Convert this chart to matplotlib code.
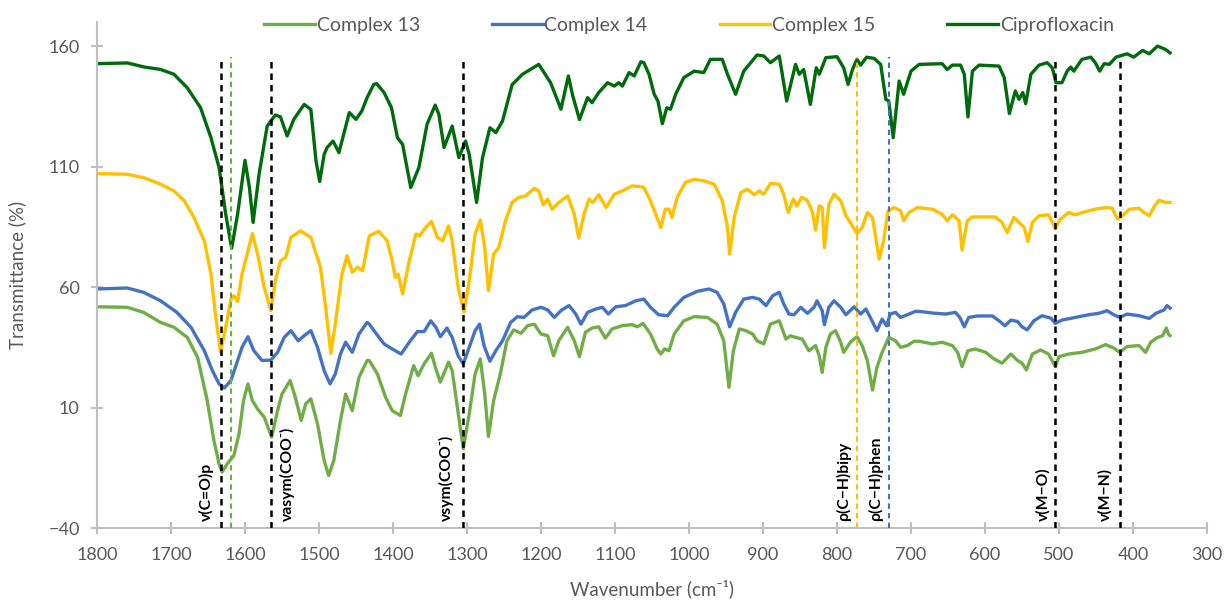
import matplotlib
matplotlib.use("Agg")
import matplotlib.pyplot as plt

plt.rcParams['font.family'] = ['Lato', 'DejaVu Sans']

# FTIR spectra (wavenumber in cm-1, transmittance in %, curves offset for clarity)
wn_cipro = [1800, 1759, 1736, 1714, 1696, 1678, 1660, 1646, 1635, 1626, 1618, 1610, 1600, 1594, 1589,
            1581, 1570, 1559, 1552, 1543, 1534, 1520, 1511, 1504, 1499, 1493, 1489, 1481, 1473, 1459,
            1450, 1442, 1435, 1426, 1422, 1412, 1402, 1394, 1387, 1376, 1365, 1354, 1343, 1338, 1331,
            1320, 1311, 1302, 1297, 1287, 1279, 1269, 1261, 1252, 1239, 1225, 1203, 1187, 1173, 1163,
            1157, 1148, 1137, 1131, 1122, 1110, 1101, 1095, 1090, 1081, 1074, 1065, 1061, 1054, 1047,
            1042, 1036, 1030, 1025, 1018, 1007, 993, 980, 971, 955, 948, 937, 926, 908, 899, 890, 878,
            868, 856, 851, 845, 836, 828, 824, 815, 800, 791, 785, 779, 773, 768, 760, 750, 741, 734,
            730, 724, 716, 710, 700, 689, 658, 651, 644, 633, 628, 623, 617, 608, 581, 574, 567, 559,
            554, 549, 545, 538, 527, 516, 509, 504, 496, 489, 484, 480, 469, 457, 451, 445, 439, 432,
            423, 408, 399, 387, 378, 367, 356, 350]
t_cipro = [152.7, 153.0, 151.3, 150.3, 148.3, 142.7, 134.4, 122.0, 109.6, 90.2, 76.1, 90.2, 112.6, 101.3,
           86.8, 106.8, 126.8, 131.4, 130.6, 122.7, 129.6, 135.8, 133.7, 112.3, 103.8, 115.1, 117.9,
           120.6, 115.8, 132.4, 129.6, 133.1, 138.6, 144.1, 144.4, 140.7, 134.4, 122.0, 119.2, 101.3,
           109.6, 127.5, 135.5, 131.7, 117.9, 126.8, 113.7, 120.6, 115.1, 95.1, 113.7, 126.1, 124.1,
           128.9, 144.0, 148.3, 152.4, 144.8, 133.8, 147.6, 139.3, 129.5, 138.6, 136.5, 140.7, 144.8,
           143.4, 144.8, 143.4, 149.0, 147.6, 153.5, 153.1, 148.3, 140.0, 137.2, 127.8, 134.4, 133.8,
           140.0, 146.9, 149.6, 149.0, 154.5, 154.5, 148.3, 140.0, 149.6, 156.3, 155.9, 153.1, 155.9,
           137.2, 152.4, 148.3, 150.3, 135.8, 151.0, 148.3, 155.2, 155.6, 151.0, 144.1, 150.3, 154.5,
           152.1, 155.4, 154.9, 152.4, 137.9, 137.2, 122.0, 145.5, 140.0, 149.6, 152.4, 152.7, 150.3,
           152.1, 152.1, 148.3, 130.6, 149.6, 152.1, 151.7, 146.9, 132.0, 141.4, 137.9, 140.7, 136.1,
           148.3, 152.1, 153.1, 151.0, 144.8, 144.8, 149.6, 151.3, 149.6, 154.5, 155.4, 153.1, 149.6,
           152.7, 152.4, 155.4, 156.8, 155.4, 158.2, 156.8, 160.0, 158.6, 157.2]

wn_c15 = [1800, 1759, 1737, 1714, 1696, 1682, 1669, 1655, 1646, 1640, 1633, 1626, 1619, 1615, 1610, 1604,
          1597, 1590, 1583, 1574, 1565, 1559, 1552, 1545, 1538, 1525, 1511, 1498, 1491, 1484, 1478, 1469,
          1462, 1455, 1448, 1441, 1432, 1419, 1408, 1401, 1397, 1393, 1387, 1378, 1369, 1364, 1356, 1348,
          1340, 1333, 1325, 1320, 1312, 1304, 1297, 1289, 1282, 1276, 1271, 1264, 1257, 1248, 1239, 1230,
          1221, 1209, 1203, 1197, 1191, 1185, 1176, 1164, 1155, 1149, 1142, 1135, 1130, 1122, 1112, 1101,
          1090, 1077, 1065, 1061, 1052, 1045, 1038, 1032, 1027, 1023, 1016, 1005, 993, 980, 966, 955,
          948, 945, 939, 930, 921, 912, 905, 899, 890, 878, 872, 866, 859, 854, 848, 840, 833, 829, 824,
          820, 817, 811, 804, 795, 788, 782, 773, 766, 759, 752, 743, 737, 731, 723, 714, 710, 703, 691,
          671, 658, 651, 644, 635, 631, 624, 617, 586, 577, 570, 561, 554, 547, 542, 536, 527, 514, 505,
          498, 487, 478, 469, 451, 437, 428, 421, 414, 405, 392, 385, 378, 372, 365, 356, 350]
t_c15 = [107.1, 106.8, 105.4, 102.7, 99.9, 95.8, 88.9, 79.2, 65.4, 48.8, 32.9, 43.3, 55.0, 56.4, 54.0, 65.4,
         73.7, 82.2, 73.7, 59.9, 50.2, 62.6, 70.9, 72.3, 80.6, 83.3, 80.6, 68.2, 51.6, 32.5, 44.6, 65.4,
         73.0, 66.1, 68.2, 66.8, 81.3, 83.1, 79.2, 70.9, 64.0, 65.4, 57.1, 70.9, 82.0, 81.3, 84.7, 87.2,
         80.6, 79.2, 85.4, 79.2, 59.9, 49.5, 62.6, 82.0, 87.8, 76.4, 58.5, 73.7, 76.4, 87.5, 95.1, 97.2,
         97.8, 101.0, 99.9, 94.1, 96.5, 92.3, 95.1, 97.8, 90.2, 80.3, 90.2, 96.5, 95.1, 98.3, 93.0, 98.5,
         99.9, 102.0, 101.6, 101.3, 95.8, 90.2, 84.7, 92.3, 92.3, 88.9, 97.2, 103.4, 104.7, 104.1, 102.7,
         95.8, 84.7, 73.7, 88.9, 99.2, 100.6, 98.3, 99.9, 98.5, 103.0, 102.7, 98.5, 90.9, 96.5, 93.7, 97.2,
         96.0, 90.9, 83.6, 93.7, 93.0, 76.4, 94.4, 98.5, 95.8, 89.6, 86.8, 82.2, 84.7, 90.9, 88.9, 71.6,
         79.2, 91.6, 93.0, 91.6, 87.5, 90.9, 93.0, 92.3, 90.2, 87.5, 90.0, 87.5, 75.3, 87.5, 89.1, 89.1,
         86.8, 82.6, 88.9, 86.8, 84.7, 78.9, 86.8, 89.6, 90.0, 84.4, 88.2, 90.9, 90.0, 90.9, 92.3, 93.0,
         92.7, 88.2, 89.6, 92.3, 92.7, 90.9, 89.6, 93.0, 96.0, 95.1, 95.1]

wn_c14 = [1800, 1759, 1737, 1714, 1692, 1673, 1655, 1644, 1635, 1628, 1619, 1610, 1604, 1596, 1588, 1577,
          1565, 1556, 1547, 1538, 1528, 1520, 1511, 1502, 1493, 1485, 1478, 1471, 1464, 1455, 1446, 1435,
          1432, 1423, 1412, 1401, 1389, 1378, 1367, 1358, 1349, 1342, 1336, 1327, 1320, 1312, 1305, 1297,
          1289, 1283, 1277, 1269, 1261, 1252, 1241, 1232, 1223, 1212, 1200, 1191, 1182, 1172, 1162, 1153,
          1146, 1137, 1126, 1117, 1109, 1099, 1086, 1072, 1061, 1052, 1041, 1029, 1020, 1007, 989, 973,
          962, 953, 945, 937, 926, 914, 905, 896, 887, 878, 872, 865, 858, 849, 840, 831, 827, 820, 817,
          811, 804, 795, 788, 777, 768, 761, 755, 746, 739, 733, 728, 721, 714, 705, 694, 689, 667, 653,
          640, 634, 628, 622, 610, 590, 581, 573, 565, 556, 550, 543, 534, 523, 511, 505, 496, 478, 460,
          446, 435, 426, 418, 408, 392, 378, 369, 358, 354, 350]
t_c14 = [59.2, 59.6, 57.8, 54.3, 49.5, 43.3, 33.6, 25.3, 19.8, 18.1, 21.2, 29.5, 35.0, 39.4, 33.6, 29.5,
         29.7, 32.9, 39.1, 41.9, 37.7, 39.8, 41.9, 35.0, 25.3, 19.8, 23.9, 32.2, 37.1, 32.9, 40.5, 45.3,
         44.6, 40.8, 36.4, 34.3, 32.2, 37.1, 41.5, 41.5, 46.0, 43.3, 39.4, 43.0, 39.1, 31.5, 28.1, 35.0,
         41.9, 44.6, 35.7, 29.2, 33.6, 37.7, 45.3, 47.7, 47.4, 50.5, 51.6, 50.5, 47.4, 50.5, 52.3, 48.8,
         44.6, 49.5, 50.9, 51.6, 48.8, 51.8, 52.3, 54.3, 55.0, 51.6, 48.5, 48.1, 51.6, 55.7, 58.2, 59.2,
         57.8, 53.0, 43.5, 49.5, 55.0, 55.7, 55.0, 52.3, 56.4, 57.8, 53.0, 48.8, 48.5, 51.6, 49.1, 51.6,
         54.3, 50.2, 44.4, 51.6, 54.3, 51.6, 48.5, 51.8, 48.8, 50.9, 47.4, 41.9, 46.7, 43.9, 48.8, 49.5,
         47.4, 48.5, 49.9, 49.9, 49.1, 48.8, 49.5, 47.4, 43.5, 47.4, 48.0, 48.0, 46.0, 43.9, 46.3, 45.7,
         43.5, 42.2, 46.0, 48.1, 47.1, 44.9, 46.3, 47.4, 48.5, 49.1, 50.2, 48.5, 47.4, 48.8, 48.1, 47.0,
         49.1, 50.5, 52.3, 51.3]

wn_c13 = [1800, 1759, 1737, 1714, 1696, 1678, 1664, 1651, 1642, 1635, 1631, 1624, 1615, 1608, 1602, 1596,
          1590, 1583, 1574, 1564, 1556, 1550, 1539, 1532, 1524, 1518, 1511, 1502, 1493, 1487, 1480, 1471,
          1464, 1455, 1446, 1435, 1432, 1421, 1410, 1401, 1390, 1383, 1372, 1366, 1358, 1348, 1342, 1336,
          1325, 1320, 1313, 1305, 1297, 1289, 1282, 1276, 1271, 1264, 1255, 1246, 1237, 1227, 1218, 1209,
          1200, 1191, 1183, 1176, 1164, 1155, 1148, 1140, 1131, 1122, 1113, 1104, 1090, 1077, 1070, 1062,
          1052, 1043, 1038, 1033, 1027, 1020, 1007, 993, 975, 962, 953, 946, 940, 932, 923, 914, 908, 899,
          890, 878, 869, 863, 856, 847, 838, 829, 824, 820, 815, 809, 802, 795, 791, 782, 773, 766, 759,
          752, 746, 739, 730, 721, 714, 705, 696, 689, 671, 658, 644, 637, 631, 623, 613, 599, 588, 577,
          565, 556, 550, 544, 536, 525, 514, 505, 500, 487, 469, 451, 437, 426, 418, 408, 392, 383, 376,
          367, 360, 355, 352, 350]
t_c13 = [51.8, 51.6, 49.5, 45.3, 43.3, 39.1, 30.8, 12.9, -3.7, -13.4, -16.8, -13.4, -9.9, -0.9, 12.9, 19.8,
         12.9, 9.4, 6.0, -2.3, 8.7, 15.6, 21.2, 14.3, 4.6, 11.5, 13.6, 3.2, -12.0, -18.2, -12.0, 4.6, 15.6,
         8.7, 22.5, 29.5, 29.5, 23.9, 14.3, 8.7, 6.7, 15.6, 27.4, 23.2, 28.1, 32.5, 26.0, 20.5, 28.8, 25.3,
         10.1, -7.1, 7.4, 23.9, 30.2, 15.6, -2.0, 12.9, 23.9, 37.7, 42.2, 40.8, 44.0, 44.6, 40.5, 39.8,
         31.5, 37.7, 43.3, 37.7, 31.1, 41.2, 43.0, 43.5, 38.8, 42.6, 44.0, 44.4, 43.5, 44.9, 40.5, 34.3,
         32.2, 34.3, 33.6, 40.5, 46.0, 47.7, 47.4, 44.6, 37.7, 18.4, 33.6, 42.6, 41.9, 40.5, 37.7, 36.4,
         44.6, 46.0, 38.4, 39.8, 39.1, 38.4, 33.6, 35.7, 31.5, 24.6, 35.0, 40.5, 41.9, 37.1, 32.9, 37.1,
         39.4, 35.7, 29.5, 17.3, 26.7, 32.9, 39.1, 37.7, 35.0, 35.7, 37.5, 37.5, 36.4, 37.1, 35.7, 32.9,
         27.0, 33.6, 34.3, 32.9, 30.2, 28.4, 32.2, 29.5, 28.4, 25.6, 32.2, 33.9, 32.2, 27.0, 31.1, 32.2,
         32.9, 34.3, 36.1, 34.7, 32.9, 35.3, 35.7, 32.9, 37.1, 39.1, 39.8, 43.0, 40.5, 39.8]

# band assignments: position, label, marker colour
band_pos = [1632, 1619, 1565, 1305, 773, 730, 505, 418]
band_lbl = ['ν(C=O)p', '', 'νasym(COO⁻)', 'νsym(COO⁻)', 'ρ(C−H)bipy', 'ρ(C−H)phen', 'ν(M−O)', 'ν(M−N)']
band_col = ['black', '#70ad47', 'black', 'black', '#ffc000', '#4472c4', 'black', 'black']
lbl_shift = [20, 0, -22, 23, 18, 18, 16, 20]

grey = '#595959'
fig = plt.figure(figsize=(12.26, 6.04), dpi=100)
ax = fig.add_axes([0.0791, 0.1258, 0.9054, 0.8378])

ax.plot(wn_c13, t_c13, color='#70ad47', lw=2.4, label='Complex 13', solid_joinstyle='round')
ax.plot(wn_c14, t_c14, color='#4472c4', lw=2.4, label='Complex 14', solid_joinstyle='round')
ax.plot(wn_c15, t_c15, color='#ffc000', lw=2.4, label='Complex 15', solid_joinstyle='round')
ax.plot(wn_cipro, t_cipro, color='#006b0c', lw=2.4, label='Ciprofloxacin', solid_joinstyle='round')

for pos, lbl, col, dx in zip(band_pos, band_lbl, band_col, lbl_shift):
    ax.plot([pos, pos], [-40, 155.5], color=col, lw=1.8 if col == 'black' else 1.5,
            ls=(0, (2.6, 2.0)), zorder=5)
    if lbl:
        ax.text(pos + dx, -37, lbl, rotation=90, ha='center', va='bottom',
                fontsize=11.3, fontweight='bold', color='black')

ax.set_xlim(1800, 300)
ax.set_ylim(-40, 170)
ax.set_xticks(range(1800, 299, -100))
ax.set_yticks([-40, 10, 60, 110, 160])

for side in ['top', 'right']:
    ax.spines[side].set_visible(False)
for side in ['left', 'bottom']:
    ax.spines[side].set_color('#bfbfbf')
    ax.spines[side].set_linewidth(1.5)
ax.tick_params(direction='inout', length=9, width=1.5, color='#bfbfbf',
               labelsize=13, labelcolor=grey)
ax.tick_params(axis='x', pad=9)
ax.tick_params(axis='y', pad=8)

ax.set_xlabel('Wavenumber (cm⁻¹)', fontsize=13.5, color=grey, labelpad=12)
ax.set_ylabel('Transmittance (%)', fontsize=13.5, color=grey, labelpad=16)

ax.legend(loc='center', bbox_to_anchor=(0.562, 0.9586), bbox_transform=fig.transFigure,
          ncol=4, frameon=False, fontsize=14, labelcolor=grey,
          handlelength=2.6, handletextpad=0.1, columnspacing=3.7)

fig.savefig('out.png', dpi=100)
